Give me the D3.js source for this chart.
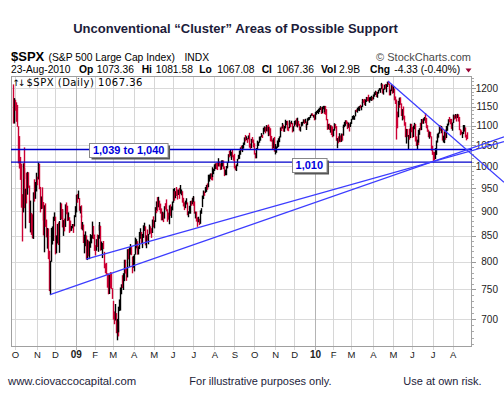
<!DOCTYPE html>
<html><head><meta charset="utf-8">
<script src="https://cdn.jsdelivr.net/npm/d3@7"></script>
<style>html,body{margin:0;padding:0;background:#fff;}svg{display:block;}</style>
</head><body>
<svg id="c" width="504" height="408"></svg>
<script>
// ---- DATA: S&P 500 daily bars, 29-Sep-2008 .. 23-Aug-2010 (one entry per trading day) ----
const highs = [
1209.6,1171.4,
1167,1160,1153,1097,1072,1021,1005,936,1006,1044,995,948,984,986,985,955,922,896,893,940,969,963,984,
975,1007.5,1005,952,931,951,919,897,912,916,882,865,864,820,801,865,868,888,897,
888,850,873,876,879,918,916,903,904,881,884,914,918,911,897,887,880,869,873,873,891,910,
934.7,936.6,943.9,927.5,910,911.9,890.4,877,871.8,851.6,858,850,841.7,839.7,838.2,852.5,850.5,877.9,869,851.7,
830.8,842.6,851.9,850.6,870.8,877,869,838,835,839,818,796,797,778,777.5,775.5,780,779.4,751.3,
729.6,711.7,724.1,708.9,699.4,695.3,719.6,731.9,752.6,758.3,774.5,778.1,803,803,788,823,823.5,826.8,833,828.7,809,810.5,
813.6,845.6,842.5,838.7,835,828.4,856.9,864.3,856.9,853,870.3,875.6,868.3,850.1,861.8,852.9,871.8,868.3,864.5,882.1,888.7,
880.5,907.9,907.7,920.3,929.6,930.2,922,915.6,905.4,898.4,897,910,916.4,924.6,903.5,896.7,911.8,913.8,909.5,920,
947.8,949.4,942.5,942.5,951.7,946.3,946.3,949.8,956.2,946.3,942.5,928,918.4,922,927.1,918.1,899.4,910.9,921.4,922,928,930,
931.9,920.3,898.7,898.6,886.8,887.9,883.6,901.1,905.8,933,944,941.9,951.6,956.5,959.8,979.4,979.8,982.5,982.5,977.8,996.7,993.2,
1003.6,1005.8,1006.6,1008,1018,1010.1,1005.8,1012.8,1013.1,1012.6,998.6,991.2,999.6,1008.9,1027.6,1035.8,1037.8,1032.5,1033.3,1039.5,1025.2,
1028.5,1000.3,1003.4,1016.5,1026.1,1036.3,1044.1,1048.2,1049.7,1056,1068.8,1074.8,1071.5,1067.3,1073.8,1080.2,1066.3,1053.5,1065.1,1069.6,1063.4,
1054.1,1030.6,1042.6,1060.6,1058,1070.7,1071.5,1079.5,1075.3,1093.2,1096.6,1094.7,1100,1098.6,1101.4,1095.2,1095.8,1091.8,1072.5,1063.3,1066.8,1070,
1052.2,1046.5,1061,1066.7,1071.3,1093.9,1096.1,1105.4,1101.2,1097.6,1113.7,1110.6,1111.1,1106.2,1094.9,1112.4,1107.6,1111.1,1105.5,1097.2,
1110.7,1112.3,1117.3,1119.1,1110.7,1103.3,1096,1108.1,1108.4,1114.8,1114.1,1116.2,1109.2,1103.7,1117.7,1120.3,1121.1,1126.5,1130.4,1130.4,1126.4,1127.6,
1133.9,1136.6,1139.2,1142.5,1145.4,1149.7,1147,1148.4,1150.4,1147.8,1150.5,1150.2,1141.6,1115.5,1103,1103.7,1099.5,1098.8,1096.5,
1089.4,1104.7,1102.7,1097.3,1067.1,1071.2,1079.3,1073.7,1078.5,1077.8,1095.7,1101,1108.2,1112.4,1112.3,1108.6,1106.4,1103.5,1107.2,
1116.1,1123.5,1125.6,1123.7,1139,1141.1,1145.4,1148.3,1150.2,1153.4,1150.6,1160.3,1169.2,1167.4,1169.2,1167.8,1174.7,1174.2,1180.7,1173.9,1174.9,1177.8,1174.9,
1181.4,1187.7,1191.8,1189.6,1188.6,1194.7,1199.2,1199,1210.7,1213.9,1210.2,1197.9,1208.5,1211,1210.3,1217.3,1219.8,1212.1,1195.1,1209.4,1208,
1205.1,1197.7,1176,1167.6,1135.1,1163.9,1170.5,1172.9,1173.6,1157.2,1141.8,1148.7,1124.3,1107.3,1090.2,1090,1074.8,1090.8,1103.5,1103.1,
1094.8,1098.4,1105.7,1102.8,1071.4,1063.2,1077.7,1087.8,1092,1105.9,1115.6,1115.2,1117.7,1121,1131.2,1118.5,1099.6,1088.2,1083.6,1082.6,1071.4,1048.1,
1033.6,1033,1042.5,1060.9,1071.3,1078.2,1080.8,1099.1,1099.1,1097.5,1093.7,1073.1,1083.9,1088.4,1097.5,1103.7,1115,1121,1116.1,1115.9,1106.4,
1127.3,1125.4,1128.8,1127.3,1126.6,1129.2,1127.8,1121.1,1089.5,1086.3,1082.2,1100.1,1099.8,1093.9,1075.6,1081.58
];
const lows = [
1106.4,1106.4,
1140,1111,1098,1008,996,970,909,840,899,972,908,866,918,937,952,877,858,853,846,845,922,928,944,
958,971,949,899,906,907,882,852,819,869,848,826,806,748,741,801,834,841,881,
815,817,836,833,818,883,885,884,868,851,860,869,895,881,882,857,860,861,866,857,870,889,
899,919.5,927.3,902.4,896.8,888.3,864.3,862,836.9,817,830.7,805.2,804.3,811.3,806,827.7,836.3,845.7,844.7,821.7,
812.9,822,829.2,819.9,845.4,861.5,822,823,808,825,789,780,777,754,742.4,743,752.7,751.8,734.5,
699.7,692.3,698.4,677.9,666.8,672.9,679.3,713.9,714.8,742.5,753.4,749.9,765.6,779.3,766.2,772.3,805.5,791.4,814.5,813.4,779.8,790.1,
783.3,814.5,826.7,822.8,814.5,814.8,825.2,845.4,836.3,827,847,860.9,832.4,826.8,841.6,834.5,853.9,855.5,847.1,856.8,868.2,
866.1,879.2,897.3,904,901.4,909.8,903.8,896.5,882.5,882.5,878.9,886.1,905.2,901.4,879.6,883.8,874.5,891.9,887.6,903.3,
919.4,938.5,923.9,929.3,934.1,926.4,936.2,928,939.1,935.7,919.7,911.6,903.8,907.9,915.8,893,888.9,896.3,896.3,913,916.2,912.9,
920.8,896.4,886.4,879.9,869.3,878.5,872.8,875.3,896.1,910,927.5,934.5,941,943.2,947.9,953.3,966,972.3,969.4,968.7,976.4,982.9,
990.2,994.6,994.3,992.5,1001,1001,992.4,993.4,1000.8,994.6,978.5,980.6,980.6,996.4,1009.1,1022.5,1026.2,1021.3,1016.2,1023.1,1014.6,
996.3,992,990.2,1001.7,1017.7,1018.7,1028.6,1038.4,1035,1043.4,1052.6,1061.2,1064.3,1057.5,1066.4,1060.4,1045.9,1041.2,1045,1057.8,1046.5,
1029,1020,1020.1,1042,1050,1057.9,1063,1071.6,1069.8,1078.7,1085.4,1081.5,1086.4,1086.2,1080.8,1074.3,1075.5,1061.5,1060.6,1042.2,1044,1036.1,
1029.4,1033.4,1045.2,1047.7,1059.3,1071,1087.4,1093.5,1085.7,1085.3,1093.9,1102.2,1102.7,1088.4,1086.8,1094.3,1097.6,1104.8,1083.7,1086.2,
1098.8,1103.5,1098.7,1096.5,1100.8,1088.6,1085.9,1098.6,1100.8,1107.1,1105.4,1108,1095.4,1089.9,1102.5,1114,1116.1,1121.1,1126.5,1126.1,1121.9,1114.8,
1116.6,1129.7,1134,1131.3,1136.2,1142,1131.4,1133.2,1143.8,1131.4,1135.8,1129.3,1114.8,1090.2,1091.8,1089.9,1083.1,1077,1071.6,
1073.9,1088,1094,1062.8,1044.5,1056.5,1060.1,1059.3,1060.1,1063,1075.5,1094.7,1097.5,1100.5,1105.4,1092.2,1095.5,1086,1097.6,
1105.4,1116.5,1116.6,1116.1,1125.1,1136.8,1134.9,1140.1,1139,1147,1141.2,1150.3,1159.9,1161.2,1155.3,1152.9,1163.8,1166.3,1165.1,1161.5,1167.7,1166.5,1168,
1170.7,1178.1,1182.8,1177.3,1175.1,1186.4,1194.7,1188.8,1198.7,1208.5,1186.8,1183.7,1197.5,1198.9,1190.2,1205.1,1211.1,1181.6,1181.8,1193.4,1186.3,
1188.6,1168.1,1158.2,1065.8,1094.2,1122.7,1147.7,1155.4,1156.1,1126.1,1114.6,1117.2,1100.7,1071.6,1055.9,1072.7,1040.8,1065.6,1069.5,1084.3,
1069.9,1072,1091.8,1060.9,1049.9,1042.2,1052.3,1058.3,1077.6,1089,1089.6,1105.9,1105.9,1113.9,1107.2,1094.2,1085.3,1071.6,1067.9,1071.5,1038.4,1028.3,
1010.9,1015.9,1018.4,1028.3,1058.2,1068.1,1070.5,1080.5,1087.7,1081.6,1063.3,1058.5,1056.9,1065.3,1069.6,1087.9,1101.3,1109.8,1104.6,1092.8,1088,
1107.7,1116.8,1119.5,1119.7,1111.6,1120.9,1111.6,1089.3,1076.6,1079,1069.6,1079.4,1085.8,1070.8,1063.9,1067.08
];
const closes = [
1106.4,1166.4,
1161.1,1114.3,1099.2,1056.9,996.2,984.9,909.9,899.2,1003.4,998.0,907.8,946.4,940.6,985.4,955.1,896.8,908.1,876.8,848.9,940.5,930.1,954.1,968.8,
966.3,1005.8,952.8,904.9,931.0,919.2,899.0,852.3,911.3,873.3,850.8,859.1,806.6,752.4,800.0,851.8,857.4,887.7,896.2,
816.2,848.8,870.7,845.2,876.1,909.7,888.7,899.2,873.6,879.7,868.6,913.2,904.4,885.3,887.9,871.6,863.2,868.2,872.8,869.4,890.6,903.3,
931.8,927.5,934.7,906.7,909.7,890.4,870.3,871.8,842.6,843.7,850.1,805.2,840.2,827.5,832.0,836.6,845.7,874.1,845.1,825.9,
825.4,838.5,832.2,845.9,868.6,869.9,827.2,833.7,835.2,826.8,789.2,788.4,778.9,770.1,743.3,773.1,764.9,752.8,735.1,
700.8,696.3,712.9,682.6,683.4,676.5,719.6,721.4,750.7,756.6,753.9,778.1,794.4,784.0,768.5,822.9,806.1,813.9,832.9,815.9,787.5,797.9,
811.1,834.4,842.5,835.5,815.6,825.2,856.6,858.7,841.5,852.1,865.3,869.6,832.4,850.1,843.6,851.9,866.2,857.5,855.2,873.6,872.8,
877.5,907.2,903.8,919.5,907.4,929.2,909.2,908.4,883.9,893.1,882.9,909.7,908.1,903.5,888.3,887.0,910.3,893.1,906.8,919.1,
942.9,944.7,931.8,942.5,940.1,939.1,942.4,939.2,944.9,946.2,923.7,912.0,910.7,918.4,921.2,893.0,895.1,900.9,920.3,918.9,927.2,919.3,
923.3,896.4,898.7,881.0,879.6,882.7,879.1,901.1,905.8,932.7,940.7,940.4,951.1,954.6,954.1,976.3,979.3,982.2,979.6,975.2,986.8,987.5,
1002.6,1005.7,1002.7,997.1,1010.5,1007.1,994.4,1005.8,1012.7,1004.1,979.7,989.7,996.5,1007.4,1026.1,1025.6,1028.0,1028.1,1031.0,1028.9,1020.6,
998.0,994.8,1003.2,1016.4,1025.4,1033.4,1044.1,1042.7,1049.3,1052.6,1068.8,1065.5,1068.3,1064.7,1071.7,1060.9,1050.8,1044.4,1063.0,1060.6,1057.1,
1029.9,1025.2,1040.5,1054.7,1057.6,1065.5,1071.5,1076.2,1073.2,1092.0,1096.6,1087.7,1097.9,1091.1,1081.4,1092.9,1079.6,1067.0,1063.4,1042.6,1066.1,1036.2,
1042.9,1045.4,1046.5,1066.6,1069.3,1093.1,1093.0,1098.5,1087.2,1093.5,1109.3,1110.3,1109.8,1094.9,1091.4,1106.2,1105.7,1110.6,1091.5,1095.6,
1108.9,1109.2,1099.9,1106.0,1103.3,1091.9,1096.0,1102.4,1106.4,1114.1,1107.9,1109.2,1096.1,1102.5,1114.1,1118.0,1120.6,1126.5,1127.8,1126.2,1126.4,1115.1,
1133.0,1136.5,1137.1,1141.7,1145.0,1147.0,1136.2,1145.7,1148.5,1136.0,1150.2,1138.0,1116.5,1091.8,1096.8,1092.2,1097.5,1084.5,1073.9,
1089.2,1103.3,1097.3,1063.1,1066.2,1056.7,1070.5,1068.1,1078.5,1075.5,1094.9,1099.5,1106.8,1109.2,1108.0,1094.6,1105.2,1102.9,1104.5,
1115.7,1118.3,1118.8,1123.0,1138.7,1138.5,1140.5,1145.6,1150.2,1150.0,1150.5,1159.5,1166.2,1165.8,1159.9,1165.8,1174.2,1167.7,1165.7,1166.6,1173.2,1173.3,1169.4,
1178.1,1187.4,1189.4,1182.5,1186.4,1194.4,1196.5,1197.3,1210.7,1211.7,1192.1,1197.5,1207.2,1205.9,1208.7,1217.3,1212.1,1183.7,1191.4,1206.8,1186.7,
1202.3,1173.6,1165.9,1128.2,1110.9,1159.7,1155.8,1171.7,1157.4,1135.7,1136.9,1120.8,1115.1,1071.6,1087.7,1073.7,1074.0,1068.0,1103.1,1089.4,
1070.7,1098.4,1102.8,1064.9,1050.5,1062.0,1055.7,1086.8,1091.6,1089.6,1115.2,1114.6,1116.0,1117.5,1113.2,1095.3,1092.0,1073.7,1076.8,1074.6,1041.2,1030.7,
1027.4,1022.6,1028.1,1060.3,1070.3,1078.0,1078.8,1095.3,1095.1,1096.5,1064.9,1071.3,1083.5,1069.6,1093.7,1102.7,1115.0,1113.8,1106.1,1101.5,1101.6,
1125.9,1120.5,1127.2,1125.8,1121.6,1127.8,1121.1,1089.5,1083.6,1079.3,1079.4,1092.5,1094.2,1075.6,1071.69,1067.36
];
const priorClose = 1213.3;           // close before the first bar (colours the first bar)
const startDate = "2008-09-29";
const holidays = ["2008-11-27","2008-12-25","2009-01-01","2009-01-19","2009-02-16","2009-04-10","2009-05-25",
  "2009-07-03","2009-09-07","2009-11-26","2009-12-25","2010-01-01","2010-01-18","2010-02-15","2010-04-02",
  "2010-05-31","2010-07-05"];
const yTicks = [700,750,800,850,900,950,1000,1050,1100,1150,1200];
const monthLetters = ["J","F","M","A","M","J","J","A","S","O","N","D"];
const supportLevels = [1040, 1010];
const supportLabels = ["1,039 to 1,040", "1,010"];
const trendFrom = [["2008-11-21","low"],["2009-01-20","low"],["2010-04-26","high"]];
const trendTo   = [["2010-07-01","low"],["2010-07-01","low"],["2010-06-21","high"]];
const quoteLabels = ["Op","Hi","Lo","Cl","Vol","Chg"];
const quoteValues = ["1073.36","1081.58","1067.08","1067.36","2.9B","-4.33 (-0.40%)"];
const lastDateText = "23-Aug-2010";

// ---- LAYOUT ----
const svg = d3.select("#c");
const P = {l:11, r:472, t:76, b:347};
const FA = "Liberation Sans, Arial, sans-serif";
const ink = "#1c1c3a";
const parse = d3.utcParse("%Y-%m-%d"), fmt = d3.utcFormat("%Y-%m-%d");
const hol = new Set(holidays);
const n = Math.min(highs.length, lows.length, closes.length);
const dates = [];
let dd = parse(startDate);
while (dates.length < n) {
  const wd = dd.getUTCDay();
  if (wd !== 0 && wd !== 6 && !hol.has(fmt(dd))) dates.push(dd);
  dd = d3.utcDay.offset(dd, 1);
}
const idxOf = s => dates.findIndex(d => fmt(d) === s);
const x = d3.scaleLinear().domain([0, n-1]).range([13.1, 466.9]);
const y = d3.scaleLog().domain([700,1200]).range([319, 88.3]);

// title
svg.append("text").attr("x",235.5).attr("y",33).attr("text-anchor","middle")
  .attr("font-family",FA).attr("font-weight","bold").attr("font-size",13).attr("fill",ink)
  .text("Unconventional \u201cCluster\u201d Areas of Possible Support");

// header
svg.append("text").attr("x",11).attr("y",61).attr("font-family",FA).attr("font-weight","bold")
  .attr("font-size",13).attr("fill","#000").text("$SPX");
svg.append("text").attr("x",48.5).attr("y",61).attr("font-family",FA).attr("font-size",10.3)
  .attr("fill","#000").text("(S&P 500 Large Cap Index)");
svg.append("text").attr("x",184.5).attr("y",61).attr("font-family",FA).attr("font-size",10.3)
  .attr("fill","#000").text("INDX");
svg.append("text").attr("x",471).attr("y",61).attr("text-anchor","end").attr("font-family",FA)
  .attr("font-size",11).attr("fill","#4a4a4a").text("\u00a9 StockCharts.com");

const row2y = 73;
svg.append("text").attr("x",11).attr("y",row2y).attr("font-family",FA).attr("font-size",10.3).text(lastDateText);
const labX = [79,141.7,199.3,261.7,321,370];
const valX = [96.7,155.7,217.3,276.7,339,394.3];
quoteLabels.forEach((t,i)=>{
  svg.append("text").attr("x",labX[i]).attr("y",row2y).attr("font-family",FA).attr("font-weight","bold")
    .attr("font-size",10.3).text(t);
  svg.append("text").attr("x",valX[i]).attr("y",row2y).attr("font-family",FA)
    .attr("font-size",10.3).text(quoteValues[i]);
});
svg.append("path").attr("d","M465.5,68.5 L471.5,68.5 L468.5,72.5 Z").attr("fill","#990033");

// plot background
svg.append("rect").attr("x",P.l).attr("y",P.t).attr("width",P.r-P.l).attr("height",P.b-P.t).attr("fill","#fff");

// horizontal grid
const crisp = v => Math.round(v) + 0.5;
svg.append("g").selectAll("line").data(yTicks).join("line")
  .attr("x1",P.l).attr("x2",P.r).attr("y1",d=>crisp(y(d))).attr("y2",d=>crisp(y(d)))
  .attr("stroke","#dadada").attr("stroke-width",1);

// month grid
const monthStarts = [];
for (let i=1;i<n;i++) if (dates[i].getUTCMonth() !== dates[i-1].getUTCMonth()) monthStarts.push(i);
svg.append("g").selectAll("line").data(monthStarts).join("line")
  .attr("x1",i=>crisp(x(i))).attr("x2",i=>crisp(x(i))).attr("y1",P.t).attr("y2",P.b+3)
  .attr("stroke",i=>dates[i].getUTCMonth()===0 ? "#b4b4b4" : "#d6d6d6").attr("stroke-width",1);
svg.append("g").selectAll("text").data(monthStarts).join("text")
  .attr("x",i=>x(i)+0.5).attr("y",357.5).attr("text-anchor","middle").attr("font-family",FA)
  .attr("font-size",i=>dates[i].getUTCMonth()===0?10:9.5)
  .attr("font-weight",i=>dates[i].getUTCMonth()===0?"bold":"normal").attr("fill","#222")
  .text(i=>dates[i].getUTCMonth()===0 ? d3.utcFormat("%y")(dates[i]) : monthLetters[dates[i].getUTCMonth()]);

// right axis ticks + labels
const minor = d3.range(660, 1240, 10).filter(v => v % 50 !== 0);
svg.append("g").selectAll("line").data(minor).join("line")
  .attr("x1",P.r).attr("x2",P.r+2).attr("y1",d=>crisp(y(d))).attr("y2",d=>crisp(y(d))).attr("stroke","#aaa");
svg.append("g").selectAll("line").data(yTicks).join("line")
  .attr("x1",P.r).attr("x2",P.r+4).attr("y1",d=>crisp(y(d))).attr("y2",d=>crisp(y(d))).attr("stroke","#999");
svg.append("g").selectAll("text").data(yTicks).join("text")
  .attr("x",498).attr("y",d=>y(d)+3.6).attr("text-anchor","end").attr("font-family",FA)
  .attr("font-size",10).attr("fill","#222").text(d=>d);

// clip for bars
svg.append("clipPath").attr("id","pc").append("rect")
  .attr("x",P.l).attr("y",P.t).attr("width",P.r-P.l).attr("height",P.b-P.t);

// price bars (high-low, red when close below prior close)
const bars = d3.range(n);
svg.append("g").attr("clip-path","url(#pc)").selectAll("line").data(bars).join("line")
  .attr("x1",i=>crisp(x(i))).attr("x2",i=>crisp(x(i)))
  .attr("y1",i=>y(highs[i])-0.5).attr("y2",i=>y(lows[i])+0.5)
  .attr("stroke",i=>closes[i] < (i ? closes[i-1] : priorClose) ? "#cc0033" : "#000")
  .attr("stroke-width",1.4);

// plot border
svg.append("rect").attr("x",P.l+0.5).attr("y",P.t+0.5).attr("width",P.r-P.l-1).attr("height",P.b-P.t-1)
  .attr("fill","none").attr("stroke","#a0a0a0");

// legend
svg.append("text").attr("x",12.5).attr("y",85.5).attr("font-family","DejaVu Sans, sans-serif")
  .attr("font-size",9).attr("letter-spacing",-2).text("\u2191\u2193");
svg.append("text").attr("x",26.5).attr("y",85.5).attr("font-family","DejaVu Sans, sans-serif")
  .attr("font-size",10).attr("letter-spacing",0.5).attr("fill","#000")
  .text("$SPX (Daily) " + closes[n-1].toFixed(2));

// support lines
svg.append("g").selectAll("line").data(supportLevels).join("line")
  .attr("x1",P.l).attr("x2",P.r).attr("y1",d=>y(d)).attr("y2",d=>y(d))
  .attr("stroke","#0000cc").attr("stroke-width",1.4);

// trend lines extended to the right edge
const XE = 504;
trendFrom.forEach((f,k)=>{
  const t = trendTo[k];
  const i1 = idxOf(f[0]), i2 = idxOf(t[0]);
  const v1 = (f[1]==="low"?lows:highs)[i1], v2 = (t[1]==="low"?lows:highs)[i2];
  const x1 = x(i1), y1 = y(v1), x2 = x(i2), y2 = y(v2);
  const s = (y2-y1)/(x2-x1);
  svg.append("line").attr("x1",x1).attr("y1",y1).attr("x2",XE).attr("y2",y1 + s*(XE-x1))
    .attr("stroke","#3c3cff").attr("stroke-width",1.3);
});

// label boxes
const boxCX = [128.7, 309.3];
const boxDY = [0.8, 2.6];
supportLevels.forEach((lv,k)=>{
  const g = svg.append("g");
  const t = g.append("text").attr("x",boxCX[k]).attr("y",y(lv)+boxDY[k]+4)
    .attr("text-anchor","middle").attr("font-family",FA).attr("font-weight","bold")
    .attr("font-size",11).attr("fill","#0000dd").text(supportLabels[k]);
  const w = t.node().getComputedTextLength() + 7, h = 14;
  const bx = Math.round(boxCX[k] - w/2) + 0.5, by = Math.round(y(lv)+boxDY[k] - h/2) + 0.5;
  g.insert("rect","text").attr("x",bx+2).attr("y",by+2).attr("width",w).attr("height",h).attr("fill","#555");
  g.insert("rect","text").attr("x",bx).attr("y",by).attr("width",w).attr("height",h)
    .attr("fill","#fff").attr("stroke","#888");
});

// footer
svg.append("text").attr("x",8).attr("y",384.5).attr("font-family",FA).attr("font-size",11.3).attr("fill",ink)
  .text("www.ciovaccocapital.com");
svg.append("text").attr("x",189.3).attr("y",384.5).attr("font-family",FA).attr("font-size",11).attr("fill",ink)
  .text("For illustrative purposes only.");
svg.append("text").attr("x",403.3).attr("y",384.5).attr("font-family",FA).attr("font-size",11).attr("fill",ink)
  .text("Use at own risk.");
</script>
</body></html>
